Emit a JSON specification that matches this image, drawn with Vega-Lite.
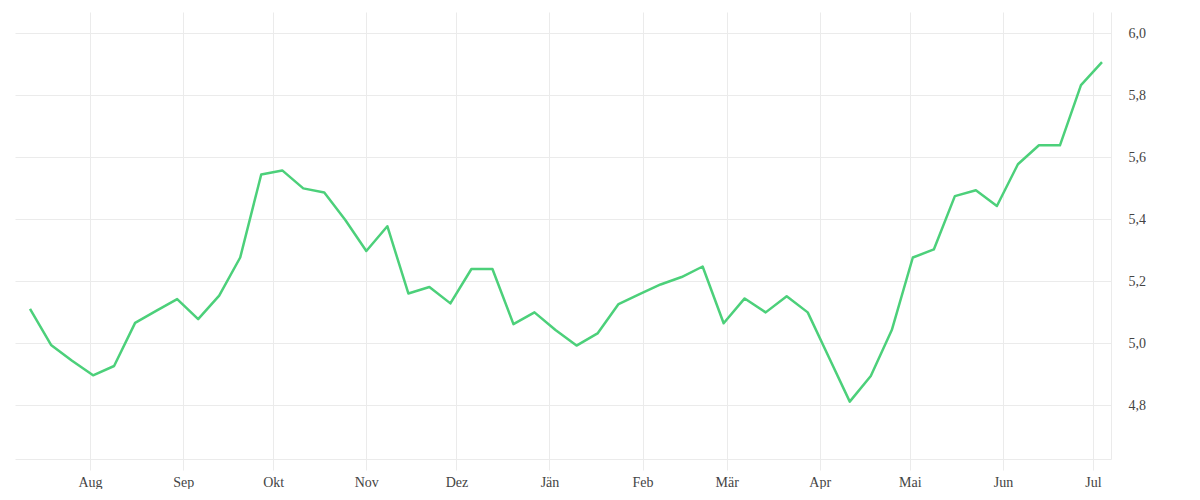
{
  "$schema": "https://vega.github.io/schema/vega-lite/v6.json",
  "width": 1096,
  "height": 447,
  "padding": {"left": 15, "top": 12, "right": 0, "bottom": 0},
  "background": "white",
  "config": {"view": {"stroke": null}},
  "data": {
    "values": [
      {"date": "2024-07-12", "value": 5.110},
      {"date": "2024-07-19", "value": 4.994},
      {"date": "2024-07-26", "value": 4.943},
      {"date": "2024-08-02", "value": 4.896},
      {"date": "2024-08-09", "value": 4.926},
      {"date": "2024-08-16", "value": 5.065},
      {"date": "2024-08-23", "value": 5.104},
      {"date": "2024-08-30", "value": 5.142},
      {"date": "2024-09-06", "value": 5.077},
      {"date": "2024-09-13", "value": 5.153},
      {"date": "2024-09-20", "value": 5.276},
      {"date": "2024-09-27", "value": 5.544},
      {"date": "2024-10-04", "value": 5.557},
      {"date": "2024-10-11", "value": 5.499},
      {"date": "2024-10-18", "value": 5.486},
      {"date": "2024-10-25", "value": 5.397},
      {"date": "2024-11-01", "value": 5.297},
      {"date": "2024-11-08", "value": 5.377},
      {"date": "2024-11-15", "value": 5.160},
      {"date": "2024-11-22", "value": 5.181},
      {"date": "2024-11-29", "value": 5.128},
      {"date": "2024-12-06", "value": 5.239},
      {"date": "2024-12-13", "value": 5.239},
      {"date": "2024-12-20", "value": 5.061},
      {"date": "2024-12-27", "value": 5.099},
      {"date": "2025-01-03", "value": 5.042},
      {"date": "2025-01-10", "value": 4.992},
      {"date": "2025-01-17", "value": 5.031},
      {"date": "2025-01-24", "value": 5.126},
      {"date": "2025-01-31", "value": 5.158},
      {"date": "2025-02-07", "value": 5.189},
      {"date": "2025-02-14", "value": 5.213},
      {"date": "2025-02-21", "value": 5.247},
      {"date": "2025-02-28", "value": 5.064},
      {"date": "2025-03-07", "value": 5.144},
      {"date": "2025-03-14", "value": 5.099},
      {"date": "2025-03-21", "value": 5.151},
      {"date": "2025-03-28", "value": 5.099},
      {"date": "2025-04-04", "value": 4.955},
      {"date": "2025-04-11", "value": 4.811},
      {"date": "2025-04-18", "value": 4.894},
      {"date": "2025-04-25", "value": 5.042},
      {"date": "2025-05-02", "value": 5.276},
      {"date": "2025-05-09", "value": 5.302},
      {"date": "2025-05-16", "value": 5.474},
      {"date": "2025-05-23", "value": 5.493},
      {"date": "2025-05-30", "value": 5.442},
      {"date": "2025-06-06", "value": 5.577},
      {"date": "2025-06-13", "value": 5.638},
      {"date": "2025-06-20", "value": 5.638},
      {"date": "2025-06-27", "value": 5.832},
      {"date": "2025-07-04", "value": 5.906}
    ]
  },
  "mark": {"type": "line", "color": "#4cd07a", "strokeWidth": 2.5, "strokeJoin": "round"},
  "encoding": {
    "x": {
      "field": "date",
      "type": "temporal",
      "scale": {
        "type": "utc",
        "domain": [
          {"year": 2024, "month": 7, "date": 7, "utc": true},
          {"year": 2025, "month": 7, "date": 7, "utc": true}
        ]
      },
      "axis": {
        "title": null,
        "tickCount": {"interval": "month", "step": 1},
        "labelExpr": "['Jän','Feb','Mär','Apr','Mai','Jun','Jul','Aug','Sep','Okt','Nov','Dez'][utcmonth(datum.value)]",
        "labelFont": "Liberation Serif",
        "labelFontSize": 14,
        "labelColor": "#444444",
        "labelPadding": 5,
        "labelAlign": "center",
        "labelFlush": false,
        "labelOverlap": false,
        "grid": true,
        "gridColor": "#ebebeb",
        "gridWidth": 1,
        "domainColor": "#ebebeb",
        "domainWidth": 1,
        "tickColor": "#ebebeb",
        "tickSize": 11,
        "tickWidth": 1
      }
    },
    "y": {
      "field": "value",
      "type": "quantitative",
      "scale": {"domain": [4.626, 6.068], "nice": false, "zero": false},
      "axis": {
        "title": null,
        "orient": "right",
        "values": [4.8, 5.0, 5.2, 5.4, 5.6, 5.8, 6.0],
        "labelExpr": "replace(format(datum.value, '.1f'), '.', ',')",
        "labelFont": "Liberation Serif",
        "labelFontSize": 14,
        "labelColor": "#444444",
        "labelPadding": 17,
        "ticks": false,
        "grid": true,
        "gridColor": "#ebebeb",
        "gridWidth": 1,
        "domainColor": "#ebebeb",
        "domainWidth": 1
      }
    }
  }
}
